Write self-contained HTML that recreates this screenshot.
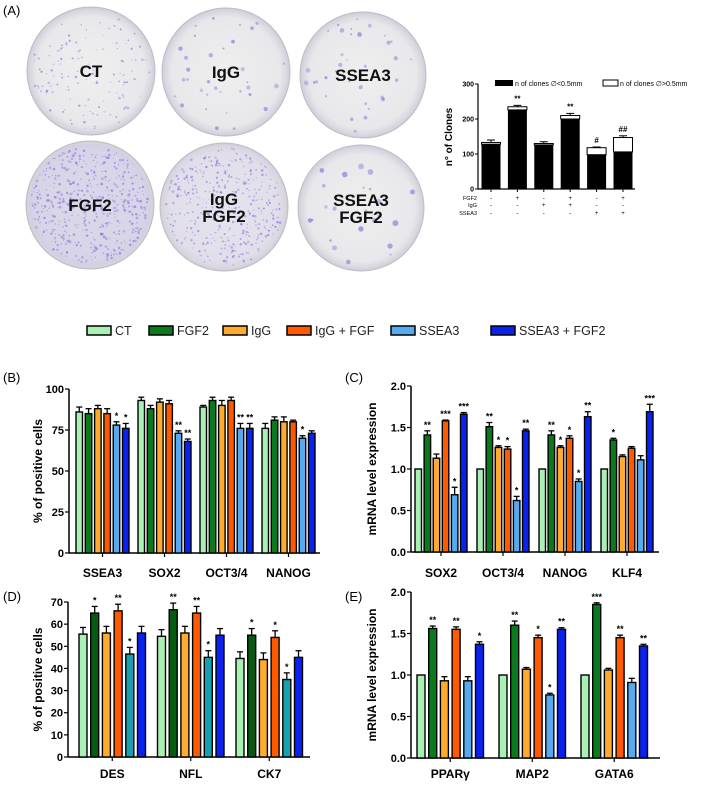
<!DOCTYPE html>
<html><head><meta charset="utf-8">
<style>
html,body{margin:0;padding:0;background:#fff;}
svg{display:block;font-family:"Liberation Sans",Arial,sans-serif;}
</style></head>
<body>
<svg id="fig" width="709" height="785" viewBox="0 0 709 785" xmlns="http://www.w3.org/2000/svg">
<defs>
<radialGradient id="dishg" cx="50%" cy="50%" r="50%">
<stop offset="0%" stop-color="#efefef"/><stop offset="85%" stop-color="#e8e7ea"/><stop offset="93%" stop-color="#dddbe2"/><stop offset="100%" stop-color="#cfccd6"/>
</radialGradient>
</defs>
<text x="3" y="15" font-size="13">(A)</text>
<text x="3" y="382" font-size="13">(B)</text>
<text x="345" y="382" font-size="13">(C)</text>
<text x="3" y="601" font-size="13">(D)</text>
<text x="345" y="601" font-size="13">(E)</text>
<g id="dishes"></g>
<g id="chartA"></g>
<g id="legend"></g>
<g id="chartB"></g>
<g id="chartC"></g>
<g id="chartD"></g>
<g id="chartE"></g>
</svg>
<script>
// ---- Panel A data ----
const aSmall = [128, 226, 126, 200, 98, 106];
const aTotal = [133, 235, 130, 210, 118, 147];
const aErr = [7, 4, 5, 6, 2, 5];
const aMarks = ["", "**", "", "**", "#", "##"];
const aTicks = [0, 100, 200, 300];
const aFGF2 = ["-", "+", "-", "+", "-", "+"];
const aIgG = ["-", "-", "+", "+", "-", "-"];
const aSSEA3 = ["-", "-", "-", "-", "+", "+"];

// ---- Series ----
const seriesNames = ["CT", "FGF2", "IgG", "IgG + FGF", "SSEA3", "SSEA3 + FGF2"];

// ---- Panel B ----
const bCats = ["SSEA3", "SOX2", "OCT3/4", "NANOG"];
const bVals = [[86,85,88,85,78,76],[93,88,92,91,73,68],[89,93,90,93,76,76],[76,81,80,80,70,73]];
const bErrs = [[3,3,2,3,2,3],[2,2,2,2,1.5,1.5],[1,2,3,2,3,3],[3,2,3,1,1.5,1.5]];
const bStars = [["","","","","*","*"],["","","","","**","**"],["","","","","**","**"],["","","","","*",""]];
const bTicks = [0,25,50,75,100];

// ---- Panel C ----
const cCats = ["SOX2", "OCT3/4", "NANOG", "KLF4"];
const cVals = [[1.0,1.41,1.13,1.58,0.69,1.66],[1.0,1.51,1.26,1.24,0.62,1.46],[1.0,1.41,1.26,1.37,0.85,1.63],[1.0,1.35,1.15,1.25,1.11,1.69]];
const cErrs = [[0,0.05,0.05,0.01,0.09,0.02],[0,0.05,0.02,0.03,0.05,0.02],[0,0.05,0.02,0.03,0.03,0.06],[0,0.02,0.02,0.02,0.05,0.09]];
const cStars = [["","**","","***","*","***"],["","**","*","*","*","**"],["","**","*","*","*","**"],["","*","","","","***"]];
const cTicks = [0.0,0.5,1.0,1.5,2.0];

// ---- Panel D ----
const dCats = ["DES", "NFL", "CK7"];
const dVals = [[55.5,65,56,66,46.5,56],[54.5,66.5,56,65,45,55],[44.5,55,44,54,35,45]];
const dErrs = [[3,3,3,3,3,3],[3,3,3,3,3,3],[3,3,3,3,3,3]];
const dStars = [["","*","","**","*",""],["","**","","**","*",""],["","*","","*","*",""]];
const dTicks = [0,10,20,30,40,50,60,70];

// ---- Panel E ----
const eCats = ["PPARγ", "MAP2", "GATA6"];
const eVals = [[1.0,1.56,0.93,1.55,0.93,1.37],[1.0,1.60,1.07,1.45,0.76,1.55],[1.0,1.85,1.06,1.45,0.91,1.35]];
const eErrs = [[0,0.03,0.05,0.03,0.05,0.03],[0,0.05,0.02,0.03,0.02,0.02],[0,0.02,0.02,0.03,0.05,0.02]];
const eStars = [["","**","","**","","*"],["","**","","*","*","**"],["","***","","**","","**"]];
const eTicks = [0.0,0.5,1.0,1.5,2.0];

const NS = "http://www.w3.org/2000/svg";
function mk(tag, attrs, parent) {
  const e = document.createElementNS(NS, tag);
  for (const k in attrs) e.setAttribute(k, attrs[k]);
  parent.appendChild(e);
  return e;
}
function txt(parent, x, y, s, size, opts) {
  const t = mk("text", Object.assign({x: x, y: y, "font-size": size}, opts || {}), parent);
  t.textContent = s;
  return t;
}

// ---- Dishes (decorative) ----
(function() {
  const g = document.getElementById("dishes");
  const dishes = [
    [91,71,64,["CT"],0.5,0.8,130],[226,72,64,["IgG"],0.8,1.6,35],[363,75,63,["SSEA3"],0.8,1.6,35],
    [90,205,64,["FGF2"],0.5,0.9,500],[224,207,64,["IgG","FGF2"],0.5,0.8,380],[361,208,63,["SSEA3","FGF2"],0.8,2.2,25]
  ];
  let seed = 7;
  function rnd() { seed = (seed * 9301 + 49297) % 233280; return seed / 233280; }
  dishes.forEach(function(d, i) {
    const dg = mk("g", {}, g);
    
    
    mk("circle", {cx: d[0], cy: d[1], r: d[2], fill: "url(#dishg)", stroke: "#c0bcc8", "stroke-width": 1}, dg);
    if (i === 3) mk("circle", {cx: d[0], cy: d[1], r: d[2]-3, fill: "#cdc8e6", opacity: 0.6}, dg);
    if (i === 4) mk("circle", {cx: d[0], cy: d[1], r: d[2]-4, fill: "#d6d2ea", opacity: 0.4}, dg);
    for (let k = 0; k < d[6]; k++) {
      const a = rnd() * Math.PI * 2, rr = Math.sqrt(rnd()) * (d[2] - 5);
      mk("circle", {cx: d[0] + rr * Math.cos(a), cy: d[1] + rr * Math.sin(a), r: d[4] + rnd() * d[5], fill: "#8a6ad6", opacity: 0.35 + rnd() * 0.3}, dg);
    }
    const lines = d[3];
    lines.forEach(function(s, j) {
      const t = txt(dg, d[0], d[1] + 6 - (lines.length - 1) * 8 + j * 17, s, 17, {"font-weight": "bold", "text-anchor": "middle", fill: "#111"});
      
      
    });
  });
})();

// ---- Panel A chart ----
(function() {
  const g = document.getElementById("chartA");
  const x0 = 478, y0 = 189, pxPer = 0.35, pitch = 26.4, first = 491, bw = 19;
  const y = function(v) { return y0 - v * pxPer; };
  const xc = function(i) { return first + i * pitch; };
  mk("line", {x1: x0, y1: y(300), x2: x0, y2: y0, stroke: "#000", "stroke-width": 1.2}, g);
  mk("line", {x1: x0, y1: y0, x2: 635, y2: y0, stroke: "#000", "stroke-width": 1.2}, g);
  aTicks.forEach(function(t) {
    mk("line", {x1: x0 - 3, y1: y(t), x2: x0, y2: y(t), stroke: "#000"}, g);
    const l = txt(g, x0 - 4, y(t) + 2.5, String(t), 7, {"text-anchor": "end", "font-weight": "bold"});
    
    
  });
  const yt = txt(g, 0, 0, "n° of Clones", 10, {"font-weight": "bold", "text-anchor": "middle", transform: "translate(452,137) rotate(-90)"});
  
  
  for (let i = 0; i < aSmall.length; i++) {
    const cx = xc(i);
    mk("line", {x1: cx, y1: y(aTotal[i]), x2: cx, y2: y(aTotal[i] + aErr[i]), stroke: "#000"}, g);
    mk("line", {x1: cx - 4, y1: y(aTotal[i] + aErr[i]), x2: cx + 4, y2: y(aTotal[i] + aErr[i]), stroke: "#000"}, g);
    const w = mk("rect", {x: cx - bw / 2, y: y(aTotal[i]), width: bw, height: y(aSmall[i]) - y(aTotal[i]), fill: "#fff", stroke: "#000", "stroke-width": 1}, g);
    
    
    const b = mk("rect", {x: cx - bw / 2, y: y(aSmall[i]), width: bw, height: y0 - y(aSmall[i]), fill: "#000"}, g);
    
    
    if (aMarks[i]) txt(g, cx, y(aTotal[i] + aErr[i]) - 4, aMarks[i], 8, {"text-anchor": "middle", "font-weight": "bold"});
    mk("line", {x1: cx, y1: y0, x2: cx, y2: y0 + 3, stroke: "#000"}, g);
    txt(g, cx, 200, aFGF2[i], 6, {"text-anchor": "middle"});
    txt(g, cx, 207, aIgG[i], 6, {"text-anchor": "middle"});
    txt(g, cx, 215, aSSEA3[i], 6, {"text-anchor": "middle"});
  }
  txt(g, 477, 200, "FGF2", 5.5, {"text-anchor": "end"});
  txt(g, 477, 207, "IgG", 5.5, {"text-anchor": "end"});
  txt(g, 477, 215, "SSEA3", 5.5, {"text-anchor": "end"});
  mk("rect", {x: 495, y: 80, width: 18, height: 6, fill: "#000"}, g);
  const l1 = txt(g, 515, 86, "n of clones ∅<0.5mm", 7, {});
  
  
  mk("rect", {x: 603, y: 80, width: 15, height: 6, fill: "#fff", stroke: "#000"}, g);
  const l2 = txt(g, 620, 86, "n of clones ∅>0.5mm", 7, {});
  
  
})();

// ---- Legend ----
const colors = ["#a8f0b4", "#0a7a1c", "#ffab30", "#ff5a00", "#55aaf0", "#0a22f0"];
(function() {
  const g = document.getElementById("legend");
  const xs = [87, 149, 223, 287, 391, 491];
  seriesNames.forEach(function(n, i) {
    const s = mk("rect", {x: xs[i], y: 326, width: 24, height: 9, fill: colors[i], stroke: "#000", "stroke-width": 1.5}, g);
    
    
    const t = txt(g, xs[i] + 28, 335, n, 12.5, {fill: "#222"});
    
    
  });
})();

// ---- Grouped bar charts ----
function grouped(id, cfg) {
  const g = document.getElementById(id);
  const y = function(v) { return cfg.y0 - (v - 0) / cfg.max * (cfg.y0 - cfg.yTop); };
  mk("line", {x1: cfg.x0, y1: cfg.yTop, x2: cfg.x0, y2: cfg.y0, stroke: "#000", "stroke-width": 1.5}, g);
  mk("line", {x1: cfg.x0, y1: cfg.y0, x2: cfg.xEnd, y2: cfg.y0, stroke: "#000", "stroke-width": 1.5}, g);
  cfg.ticks.forEach(function(t) {
    mk("line", {x1: cfg.x0 - 4, y1: y(t), x2: cfg.x0, y2: y(t), stroke: "#000", "stroke-width": 1.2}, g);
    const l = txt(g, cfg.x0 - 5, y(t) + 4, cfg.fmt(t), 11, {"text-anchor": "end", "font-weight": "bold"});
    
    
  });
  const yt = txt(g, 0, 0, cfg.title, 12, {"font-weight": "bold", "text-anchor": "middle", transform: "translate(" + cfg.titleX + "," + ((cfg.yTop + cfg.y0) / 2) + ") rotate(-90)"});
  
  
  cfg.cats.forEach(function(c, gi) {
    const start = cfg.start + gi * cfg.gPitch;
    const center = start + (5 * cfg.pitch + cfg.bw) / 2;
    mk("line", {x1: center, y1: cfg.y0, x2: center, y2: cfg.y0 + 4, stroke: "#000", "stroke-width": 1.2}, g);
    const l = txt(g, center, cfg.labelY, c, 12, {"text-anchor": "middle", "font-weight": "bold"});
    
    
    cfg.vals[gi].forEach(function(v, si) {
      const x = start + si * cfg.pitch;
      const top = y(v + cfg.errs[gi][si]);
      if (cfg.errs[gi][si] > 0) {
        mk("line", {x1: x + cfg.bw / 2, y1: y(v), x2: x + cfg.bw / 2, y2: top, stroke: "#000", "stroke-width": 1.3}, g);
        mk("line", {x1: x + cfg.bw / 2 - 3, y1: top, x2: x + cfg.bw / 2 + 3, y2: top, stroke: "#000", "stroke-width": 1.3}, g);
      }
      const r = mk("rect", {x: x, y: y(v), width: cfg.bw, height: cfg.y0 - y(v), fill: cfg.colors[si], stroke: "#000", "stroke-width": 1.4}, g);
      
      
      const s = cfg.stars[gi][si];
      if (s) {
        const st = txt(g, x + cfg.bw / 2, top - 3, s, 9, {"text-anchor": "middle", "font-weight": "bold"});
        
        
      }
    });
  });
}
const intFmt = function(t) { return String(t); };
const decFmt = function(t) { return t.toFixed(1); };
grouped("chartB", {cats: bCats, vals: bVals, errs: bErrs, stars: bStars, ticks: bTicks, max: 100, fmt: intFmt,
  x0: 69, xEnd: 320, y0: 553, yTop: 389, start: 76, pitch: 9.3, bw: 6.5, gPitch: 62, labelY: 577, title: "% of positive cells", titleX: 42, colors: colors});
grouped("chartC", {cats: cCats, vals: cVals, errs: cErrs, stars: cStars, ticks: cTicks, max: 2, fmt: decFmt,
  x0: 411, xEnd: 659, y0: 552, yTop: 386, start: 415, pitch: 9.1, bw: 6.5, gPitch: 62, labelY: 577, title: "mRNA level expression", titleX: 376, colors: colors});
const colorsD = ["#a8f0b4", "#075a12", "#ffab30", "#ff5a00", "#1a9fb0", "#0a22f0"];
grouped("chartD", {cats: dCats, vals: dVals, errs: dErrs, stars: dStars, ticks: dTicks, max: 70, fmt: intFmt,
  x0: 68, xEnd: 310, y0: 757, yTop: 602, start: 79, pitch: 11.7, bw: 8, gPitch: 78.5, labelY: 778, title: "% of positive cells", titleX: 42, colors: colorsD});
grouped("chartE", {cats: eCats, vals: eVals, errs: eErrs, stars: eStars, ticks: eTicks, max: 2, fmt: decFmt,
  x0: 411, xEnd: 660, y0: 758, yTop: 592, start: 417, pitch: 11.7, bw: 8, gPitch: 82, labelY: 778, title: "mRNA level expression", titleX: 376, colors: colors});
</script>
</body></html>
